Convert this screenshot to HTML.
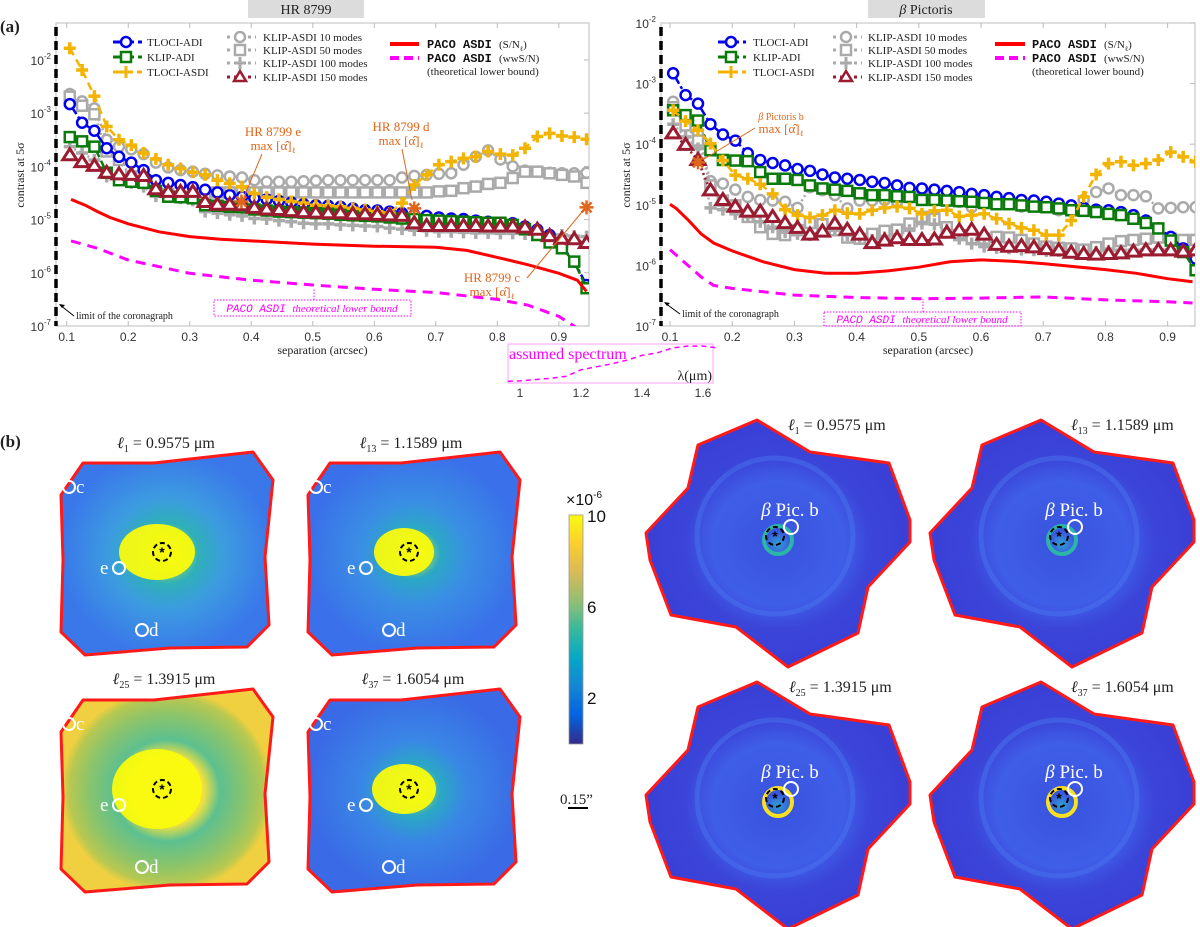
<!DOCTYPE html>
<html><head><meta charset="utf-8"><style>
html,body{margin:0;padding:0;background:#fff;}
svg{display:block;}
.tk{font-family:"Liberation Sans",sans-serif;font-size:12px;fill:#333;}
.sf{font-family:"Liberation Serif",serif;fill:#222;}
.mono{font-family:"Liberation Mono",monospace;font-weight:bold;fill:#111;}
.ann{font-family:"Liberation Serif",serif;fill:#e0661a;}
</style></head><body>
<svg id="fig" width="1200" height="927" viewBox="0 0 1200 927" xmlns="http://www.w3.org/2000/svg">
<defs>
<linearGradient id="parula" x1="0" y1="1" x2="0" y2="0">
<stop offset="0" stop-color="#352a87"/><stop offset="0.125" stop-color="#0363e1"/><stop offset="0.25" stop-color="#1485d4"/><stop offset="0.375" stop-color="#06a7c6"/><stop offset="0.5" stop-color="#38b99e"/><stop offset="0.625" stop-color="#92bf73"/><stop offset="0.75" stop-color="#d9ba56"/><stop offset="0.875" stop-color="#fcce2e"/><stop offset="1" stop-color="#f9fb0e"/>
</linearGradient>
<radialGradient id="gHR1"><stop offset="0" stop-color="#f9fb0e"/><stop offset="0.3" stop-color="#2fb0b8"/><stop offset="0.55" stop-color="#3c9be0"/><stop offset="1" stop-color="#3a78ea"/></radialGradient>
<radialGradient id="gHR2"><stop offset="0" stop-color="#f9fb0e"/><stop offset="0.25" stop-color="#2aa8c4"/><stop offset="0.5" stop-color="#3a8fe4"/><stop offset="1" stop-color="#3a70ea"/></radialGradient>
<radialGradient id="gHR3"><stop offset="0" stop-color="#f9fb0e"/><stop offset="0.35" stop-color="#f0e040"/><stop offset="0.5" stop-color="#5cc090"/><stop offset="0.75" stop-color="#8cc46a"/><stop offset="0.92" stop-color="#b8c850"/><stop offset="1" stop-color="#f0d040"/></radialGradient>
<radialGradient id="gHR4"><stop offset="0" stop-color="#f9fb0e"/><stop offset="0.25" stop-color="#2aa8c4"/><stop offset="0.5" stop-color="#3a86e6"/><stop offset="1" stop-color="#3a6ae6"/></radialGradient>
<radialGradient id="gBP"><stop offset="0" stop-color="#2fa0d0"/><stop offset="0.1" stop-color="#3a55e0"/><stop offset="0.5" stop-color="#3f5ee8"/><stop offset="0.7" stop-color="#3b45d8"/><stop offset="1" stop-color="#3a3fd6"/></radialGradient>
<clipPath id="clipL"><rect x="56" y="23" width="533" height="303"/></clipPath>
<clipPath id="clipR"><rect x="661" y="23" width="534" height="303"/></clipPath>
</defs>

<rect x="248" y="0" width="116" height="18" fill="#dcdcdc"/>
<text x="306" y="14" text-anchor="middle" class="sf" font-size="14">HR 8799</text>
<rect x="868" y="0" width="117" height="18" fill="#dcdcdc"/>
<text x="926" y="14" text-anchor="middle" class="sf" font-size="14"><tspan font-style="italic">β</tspan> Pictoris</text>
<text x="0" y="32" class="sf" font-size="17" font-weight="bold">(a)</text>
<text x="0" y="447" class="sf" font-size="17" font-weight="bold">(b)</text>

<g id="chartL"></g>
<g id="chartR"></g>

<g font-size="11">
 <g><line x1="113" y1="42" x2="142" y2="42" stroke="#0000ee" stroke-width="3" stroke-dasharray="14 4 3 4"/><circle cx="126" cy="42" r="5" fill="#fff" stroke="#0000ee" stroke-width="2.5"/><text x="147" y="46" class="sf">TLOCI-ADI</text></g>
 <g><line x1="113" y1="57" x2="142" y2="57" stroke="#0a7a0a" stroke-width="3" stroke-dasharray="14 4 3 4"/><rect x="121" y="52" width="10" height="10" fill="#fff" stroke="#0a7a0a" stroke-width="2.5"/><text x="147" y="61" class="sf">KLIP-ADI</text></g>
 <g><line x1="113" y1="72" x2="142" y2="72" stroke="#f2b400" stroke-width="3" stroke-dasharray="8 4"/><path d="M126 66v12M120 72h12" stroke="#f2b400" stroke-width="3"/><text x="147" y="76" class="sf">TLOCI-ASDI</text></g>
 <g><line x1="227" y1="37" x2="256" y2="37" stroke="#aaa" stroke-width="3" stroke-dasharray="3 4"/><circle cx="240" cy="37" r="5" fill="#fff" stroke="#aaa" stroke-width="2.5"/><text x="263" y="41" class="sf">KLIP-ASDI  10 modes</text></g>
 <g><line x1="227" y1="50" x2="256" y2="50" stroke="#aaa" stroke-width="3" stroke-dasharray="3 4"/><rect x="235" y="45" width="10" height="10" fill="#fff" stroke="#aaa" stroke-width="2.5"/><text x="263" y="54" class="sf">KLIP-ASDI  50 modes</text></g>
 <g><line x1="227" y1="63" x2="256" y2="63" stroke="#aaa" stroke-width="3" stroke-dasharray="3 4"/><path d="M240 57v12M234 63h12" stroke="#aaa" stroke-width="3"/><text x="263" y="67" class="sf">KLIP-ASDI  100 modes</text></g>
 <g><line x1="227" y1="77" x2="256" y2="77" stroke="#9b1b30" stroke-width="3" stroke-dasharray="3 4"/><path d="M240 71l6 10h-12z" fill="#fff" stroke="#9b1b30" stroke-width="2.5"/><text x="263" y="81" class="sf">KLIP-ASDI  150 modes</text></g>
 <g><line x1="390" y1="44" x2="419" y2="44" stroke="#ff0000" stroke-width="4"/><text x="427" y="48" class="mono" font-size="12">PACO ASDI</text><text x="499" y="48" class="sf">(S/N<tspan font-size="7" dy="3">ℓ</tspan><tspan dy="-3">)</tspan></text></g>
 <g><line x1="390" y1="58" x2="419" y2="58" stroke="#ff00ff" stroke-width="4" stroke-dasharray="9 5"/><text x="427" y="62" class="mono" font-size="12">PACO ASDI</text><text x="499" y="62" class="sf">(wwS/N)</text><text x="427" y="75" class="sf">(theoretical lower bound)</text></g>
</g>
<g font-size="11">
 <g><line x1="718" y1="42" x2="746" y2="42" stroke="#0000ee" stroke-width="3" stroke-dasharray="14 4 3 4"/><circle cx="731" cy="42" r="5" fill="#fff" stroke="#0000ee" stroke-width="2.5"/><text x="753" y="46" class="sf">TLOCI-ADI</text></g>
 <g><line x1="718" y1="57" x2="746" y2="57" stroke="#0a7a0a" stroke-width="3" stroke-dasharray="14 4 3 4"/><rect x="726" y="52" width="10" height="10" fill="#fff" stroke="#0a7a0a" stroke-width="2.5"/><text x="753" y="61" class="sf">KLIP-ADI</text></g>
 <g><line x1="718" y1="72" x2="746" y2="72" stroke="#f2b400" stroke-width="3" stroke-dasharray="8 4"/><path d="M731 66v12M725 72h12" stroke="#f2b400" stroke-width="3"/><text x="753" y="76" class="sf">TLOCI-ASDI</text></g>
 <g><line x1="833" y1="37" x2="862" y2="37" stroke="#aaa" stroke-width="3" stroke-dasharray="3 4"/><circle cx="846" cy="37" r="5" fill="#fff" stroke="#aaa" stroke-width="2.5"/><text x="868" y="41" class="sf">KLIP-ASDI  10 modes</text></g>
 <g><line x1="833" y1="50" x2="862" y2="50" stroke="#aaa" stroke-width="3" stroke-dasharray="3 4"/><rect x="841" y="45" width="10" height="10" fill="#fff" stroke="#aaa" stroke-width="2.5"/><text x="868" y="54" class="sf">KLIP-ASDI  50 modes</text></g>
 <g><line x1="833" y1="63" x2="862" y2="63" stroke="#aaa" stroke-width="3" stroke-dasharray="3 4"/><path d="M846 57v12M840 63h12" stroke="#aaa" stroke-width="3"/><text x="868" y="67" class="sf">KLIP-ASDI  100 modes</text></g>
 <g><line x1="833" y1="77" x2="862" y2="77" stroke="#9b1b30" stroke-width="3" stroke-dasharray="3 4"/><path d="M846 71l6 10h-12z" fill="#fff" stroke="#9b1b30" stroke-width="2.5"/><text x="868" y="81" class="sf">KLIP-ASDI  150 modes</text></g>
 <g><line x1="995" y1="44" x2="1025" y2="44" stroke="#ff0000" stroke-width="4"/><text x="1032" y="48" class="mono" font-size="12">PACO ASDI</text><text x="1104" y="48" class="sf">(S/N<tspan font-size="7" dy="3">ℓ</tspan><tspan dy="-3">)</tspan></text></g>
 <g><line x1="995" y1="58" x2="1025" y2="58" stroke="#ff00ff" stroke-width="4" stroke-dasharray="9 5"/><text x="1032" y="62" class="mono" font-size="12">PACO ASDI</text><text x="1104" y="62" class="sf">(wwS/N)</text><text x="1032" y="75" class="sf">(theoretical lower bound)</text></g>
</g>

<g>
 <text x="273" y="136" text-anchor="middle" class="ann" font-size="13">HR 8799 e</text>
 <text x="273" y="150" text-anchor="middle" class="ann" font-size="13">max [α̂]<tspan font-size="8" dy="3">ℓ</tspan></text>
 <line x1="262" y1="154" x2="244" y2="197" stroke="#e0661a" stroke-width="1"/>
 <text x="401" y="131" text-anchor="middle" class="ann" font-size="13">HR 8799 d</text>
 <text x="401" y="145" text-anchor="middle" class="ann" font-size="13">max [α̂]<tspan font-size="8" dy="3">ℓ</tspan></text>
 <line x1="402" y1="149" x2="412" y2="200" stroke="#e0661a" stroke-width="1"/>
 <text x="492" y="282" text-anchor="middle" class="ann" font-size="13">HR 8799 c</text>
 <text x="492" y="296" text-anchor="middle" class="ann" font-size="13">max [α̂]<tspan font-size="8" dy="3">ℓ</tspan></text>
 <line x1="527" y1="278" x2="582" y2="212" stroke="#e0661a" stroke-width="1"/>
 <text x="781" y="120" text-anchor="middle" class="ann" font-size="10"><tspan font-style="italic">β</tspan> Pictoris b</text>
 <text x="781" y="133" text-anchor="middle" class="ann" font-size="13">max [α̂]<tspan font-size="8" dy="3">ℓ</tspan></text>
 <line x1="755" y1="128" x2="704" y2="159" stroke="#e0661a" stroke-width="1"/>

 <rect x="214" y="300" width="197" height="16" fill="none" stroke="#ff00ff" stroke-dasharray="1.5 1.5"/>
 <text x="312" y="312" text-anchor="middle" font-family="Liberation Mono,monospace" font-style="italic" font-size="11" fill="#ff00ff">PACO ASDI <tspan font-family="Liberation Serif,serif">theoretical lower bound</tspan></text>
 <line x1="314" y1="300" x2="314" y2="289" stroke="#ff00ff" stroke-dasharray="1.5 1.5"/>
 <rect x="824" y="312" width="197" height="14" fill="none" stroke="#ff00ff" stroke-dasharray="1.5 1.5"/>
 <text x="922" y="323" text-anchor="middle" font-family="Liberation Mono,monospace" font-style="italic" font-size="11" fill="#ff00ff">PACO ASDI <tspan font-family="Liberation Serif,serif">theoretical lower bound</tspan></text>
 <line x1="923" y1="312" x2="923" y2="299" stroke="#ff00ff" stroke-dasharray="1.5 1.5"/>

 <line x1="74" y1="316" x2="60" y2="305" stroke="#000" stroke-width="1"/><path d="M59 304l6 1-3 3z" fill="#000"/>
 <text x="76" y="319" class="sf" font-size="10">limit of the coronagraph</text>
 <line x1="680" y1="314" x2="665" y2="303" stroke="#000" stroke-width="1"/><path d="M664 302l6 1-3 3z" fill="#000"/>
 <text x="682" y="317" class="sf" font-size="10">limit of the coronagraph</text>
</g>

<g id="inset">
 <rect x="508" y="344" width="205" height="39" fill="#fff" stroke="#ffb0ff" stroke-width="1.2"/>
 <text x="509" y="359" font-family="Liberation Serif,serif" font-size="16" fill="#ff00ff">assumed spectrum</text>
 <text x="712" y="380" text-anchor="end" class="sf" font-size="14">λ(μm)</text>
</g>

<g>
 <rect x="569" y="515" width="14" height="229" fill="url(#parula)" stroke="#999" stroke-width="0.8"/>
 <text x="566" y="505" font-family="Liberation Sans,sans-serif" font-size="16" fill="#111">×10<tspan font-size="10" dy="-7">-6</tspan></text>
 <text x="587" y="522" style="font-family:'Liberation Sans',sans-serif;font-size:17px;fill:#111">10</text>
 <text x="587" y="613" style="font-family:'Liberation Sans',sans-serif;font-size:17px;fill:#111">6</text>
 <text x="587" y="704" style="font-family:'Liberation Sans',sans-serif;font-size:17px;fill:#111">2</text>
 <text x="560" y="804" class="sf" font-size="15">0.15”</text>
 <line x1="568" y1="808" x2="588" y2="808" stroke="#000" stroke-width="2"/>
</g>

<g id="images"></g>
</svg>
<script>
const sepGrid = [0.105,0.125,0.145,0.165,0.185,0.205,0.225,0.245,0.265,0.285,0.305,0.325,0.345,0.365,0.385,0.405,0.425,0.445,0.465,0.485,0.505,0.525,0.545,0.565,0.585,0.605,0.625,0.645,0.665,0.685,0.705,0.725,0.745,0.765,0.785,0.805,0.825,0.845,0.865,0.885,0.905,0.925,0.945];
const hrTlociAdi = [-2.83,-3.18,-3.33,-3.66,-3.82,-3.93,-4.07,-4.26,-4.31,-4.35,-4.39,-4.44,-4.49,-4.54,-4.57,-4.60,-4.62,-4.65,-4.68,-4.71,-4.73,-4.74,-4.76,-4.79,-4.82,-4.83,-4.85,-4.88,-4.91,-4.93,-4.96,-4.98,-4.99,-5.02,-5.04,-5.06,-5.07,-5.13,-5.19,-5.29,-5.51,-5.79,-6.23];
const hrKlipAdi = [-3.45,-3.53,-3.63,-4.12,-4.26,-4.29,-4.31,-4.46,-4.57,-4.58,-4.60,-4.73,-4.74,-4.76,-4.77,-4.81,-4.83,-4.85,-4.86,-4.87,-4.88,-4.89,-4.91,-4.92,-4.93,-4.94,-4.96,-4.98,-4.99,-5.01,-5.02,-5.03,-5.04,-5.05,-5.06,-5.06,-5.10,-5.18,-5.29,-5.43,-5.54,-5.79,-6.29];
const hrTlociAsdi = [-1.78,-2.19,-2.68,-3.25,-3.50,-3.60,-3.75,-3.86,-3.97,-4.04,-4.11,-4.16,-4.26,-4.32,-4.38,-4.51,-4.58,-4.62,-4.66,-4.69,-4.73,-4.74,-4.76,-4.79,-4.82,-4.85,-4.88,-4.69,-4.35,-4.16,-3.97,-3.91,-3.85,-3.82,-3.72,-3.77,-3.79,-3.66,-3.44,-3.38,-3.43,-3.45,-3.49];
const hrKlip10 = [-2.64,-2.78,-2.91,-3.50,-3.63,-3.68,-3.77,-3.93,-4.02,-4.07,-4.10,-4.14,-4.17,-4.19,-4.21,-4.26,-4.29,-4.29,-4.29,-4.28,-4.27,-4.26,-4.26,-4.26,-4.26,-4.26,-4.26,-4.21,-4.18,-4.16,-4.14,-4.13,-3.97,-3.82,-3.70,-3.87,-4.00,-4.08,-4.10,-4.12,-4.13,-4.13,-4.12];
const hrKlip50 = [-2.69,-2.86,-3.02,-3.72,-3.88,-4.19,-4.29,-4.47,-4.52,-4.57,-4.57,-4.51,-4.49,-4.49,-4.49,-4.49,-4.49,-4.49,-4.49,-4.49,-4.49,-4.49,-4.49,-4.49,-4.49,-4.49,-4.49,-4.49,-4.49,-4.49,-4.47,-4.46,-4.41,-4.38,-4.33,-4.31,-4.22,-4.10,-4.10,-4.13,-4.16,-4.19,-4.31];
const hrKlip100 = [-3.63,-3.75,-3.88,-4.19,-4.26,-4.31,-4.38,-4.56,-4.57,-4.60,-4.64,-4.85,-4.88,-4.91,-4.93,-4.98,-4.99,-5.02,-5.04,-5.07,-5.08,-5.08,-5.10,-5.11,-5.12,-5.13,-5.16,-5.18,-5.20,-5.21,-5.23,-5.23,-5.24,-5.25,-5.25,-5.26,-5.26,-5.27,-5.28,-5.29,-5.29,-5.31,-5.32];
const hrKlip150 = [-3.80,-3.93,-4.00,-4.13,-4.16,-4.17,-4.19,-4.44,-4.49,-4.49,-4.49,-4.68,-4.73,-4.73,-4.74,-4.79,-4.82,-4.83,-4.85,-4.87,-4.88,-4.89,-4.89,-4.91,-4.91,-4.92,-4.93,-4.94,-5.08,-5.13,-5.13,-5.13,-5.13,-5.13,-5.14,-5.14,-5.14,-5.16,-5.20,-5.32,-5.37,-5.38,-5.45];
const hrPacoSep = [0.107,0.13,0.15,0.17,0.2,0.25,0.3,0.35,0.4,0.5,0.6,0.7,0.75,0.8,0.85,0.9,0.93,0.945];
const hrPacoSnr = [-4.62,-4.73,-4.85,-4.96,-5.08,-5.23,-5.32,-5.37,-5.40,-5.46,-5.50,-5.52,-5.58,-5.71,-5.85,-6.01,-6.14,-6.35];
const hrWwSep = [0.107,0.15,0.2,0.3,0.4,0.5,0.6,0.7,0.8,0.85,0.9,0.93];
const hrWwSnr = [-5.40,-5.54,-5.76,-6.01,-6.14,-6.23,-6.31,-6.37,-6.50,-6.61,-6.82,-7.04];
const hrPlanetSep = [0.384,0.665,0.945];
const hrPlanetVal = [-4.66,-4.79,-4.77];
const bpTlociAdi = [-2.83,-3.19,-3.33,-3.67,-3.84,-3.94,-4.15,-4.26,-4.31,-4.35,-4.41,-4.44,-4.50,-4.55,-4.57,-4.59,-4.62,-4.64,-4.68,-4.72,-4.73,-4.75,-4.77,-4.79,-4.82,-4.84,-4.87,-4.89,-4.92,-4.93,-4.95,-4.98,-5.01,-5.05,-5.08,-5.09,-5.12,-5.17,-5.26,-5.39,-5.53,-5.72,-5.89];
const bpKlipAdi = [-3.44,-3.52,-3.61,-4.10,-4.26,-4.27,-4.28,-4.46,-4.57,-4.57,-4.59,-4.68,-4.73,-4.75,-4.77,-4.81,-4.84,-4.84,-4.86,-4.87,-4.92,-4.92,-4.93,-4.94,-4.95,-4.97,-4.99,-4.99,-5.01,-5.03,-5.04,-5.06,-5.09,-5.10,-5.12,-5.15,-5.17,-5.23,-5.30,-5.39,-5.59,-5.78,-6.08];
const bpTlociAsdi = [-3.44,-3.62,-3.77,-3.99,-4.27,-4.51,-4.57,-4.66,-4.82,-5.08,-5.17,-5.21,-5.17,-5.09,-5.14,-5.15,-5.09,-5.05,-5.03,-5.06,-5.15,-5.10,-5.09,-5.19,-5.17,-5.15,-5.23,-5.31,-5.38,-5.42,-5.50,-5.50,-5.26,-4.87,-4.50,-4.32,-4.29,-4.35,-4.32,-4.26,-4.13,-4.21,-4.29];
const bpKlip10 = [-3.30,-3.63,-3.83,-4.61,-4.65,-4.75,-4.87,-4.92,-4.93,-4.95,-5.05,-4.71,-4.76,-4.84,-5.06,-4.93,-4.93,-4.92,-4.95,-4.82,-4.79,-4.83,-4.92,-4.95,-5.04,-4.95,-4.95,-4.98,-5.03,-4.99,-5.04,-5.09,-5.06,-4.92,-4.79,-4.73,-4.84,-4.84,-4.86,-5.06,-5.05,-5.04,-5.04];
const bpKlip50 = [-3.39,-3.69,-3.94,-4.68,-4.93,-5.01,-5.20,-5.37,-5.48,-5.50,-5.42,-5.30,-5.32,-5.42,-5.54,-5.56,-5.48,-5.43,-5.41,-5.31,-5.20,-5.23,-5.37,-5.50,-5.56,-5.56,-5.53,-5.54,-5.58,-5.64,-5.69,-5.71,-5.72,-5.74,-5.70,-5.64,-5.60,-5.58,-5.56,-5.54,-5.56,-5.58,-5.58];
const bpKlip100 = [-3.67,-3.88,-4.07,-5.05,-5.08,-5.15,-5.20,-5.28,-5.37,-5.45,-5.48,-5.50,-5.42,-5.42,-5.50,-5.56,-5.58,-5.54,-5.50,-5.42,-5.31,-5.32,-5.42,-5.56,-5.64,-5.69,-5.71,-5.72,-5.74,-5.75,-5.76,-5.76,-5.76,-5.78,-5.78,-5.76,-5.75,-5.75,-5.74,-5.74,-5.74,-5.74,-5.74];
const bpKlip150 = [-3.83,-4.02,-4.27,-4.77,-4.93,-5.04,-5.12,-5.12,-5.21,-5.31,-5.39,-5.50,-5.45,-5.32,-5.42,-5.50,-5.64,-5.60,-5.56,-5.59,-5.59,-5.58,-5.47,-5.43,-5.42,-5.50,-5.67,-5.70,-5.69,-5.71,-5.74,-5.76,-5.80,-5.82,-5.83,-5.82,-5.81,-5.78,-5.76,-5.76,-5.76,-5.78,-5.76];
const bpPacoSep = [0.1,0.11,0.13,0.15,0.17,0.2,0.25,0.3,0.35,0.4,0.45,0.5,0.55,0.6,0.65,0.7,0.75,0.8,0.85,0.9,0.94];
const bpPacoSnr = [-4.99,-5.06,-5.26,-5.48,-5.63,-5.76,-5.94,-6.07,-6.13,-6.13,-6.09,-6.03,-5.94,-5.91,-5.93,-5.97,-6.02,-6.07,-6.13,-6.22,-6.27];
const bpWwSep = [0.1,0.12,0.15,0.17,0.2,0.3,0.4,0.5,0.6,0.7,0.8,0.9,0.94];
const bpWwSnr = [-5.74,-5.92,-6.19,-6.33,-6.38,-6.49,-6.53,-6.55,-6.54,-6.52,-6.57,-6.60,-6.62];
const bpPlanetSep = [0.145];
const bpPlanetVal = [-4.30];
const xTickLabels = ["0.1","0.2","0.3","0.4","0.5","0.6","0.7","0.8","0.9"];
const xTickValues = [0.1,0.2,0.3,0.4,0.5,0.6,0.7,0.8,0.9];
const yTickExps = [-2,-3,-4,-5,-6,-7];
const specLambda = [0.96,1.0,1.1,1.15,1.2,1.25,1.3,1.35,1.4,1.45,1.5,1.55,1.6,1.65];
const specValue = [0.02,0.03,0.1,0.15,0.33,0.41,0.49,0.59,0.72,0.79,0.92,0.97,0.97,0.92];
const specTickLabels = ["1","1.2","1.4","1.6"];
const specTickValues = [1,1.2,1.4,1.6];

const NS = "http://www.w3.org/2000/svg";
function el(tag, attrs, parent) {
  const e = document.createElementNS(NS, tag);
  for (const k in attrs) e.setAttribute(k, attrs[k]);
  parent.appendChild(e);
  return e;
}

function drawChart(root, cfg, series, planets) {
  const xs = s => cfg.x0 + (s - cfg.xmin) / (cfg.xmax - cfg.xmin) * (cfg.x1 - cfg.x0);
  const ys = L => cfg.y0 + (cfg.Ltop - L) / (cfg.Ltop - cfg.Lbot) * (cfg.y1 - cfg.y0);
  const frame = el("rect", {x: cfg.x0, y: cfg.y0, width: cfg.x1 - cfg.x0, height: cfg.y1 - cfg.y0, fill: "none", stroke: "#c8c8c8", "stroke-width": 1.2}, root);
  
  
  xTickValues.forEach((v, i) => {
    const x = xs(v);
    el("line", {x1: x, y1: cfg.y1, x2: x, y2: cfg.y1 - 5, stroke: "#bbb"}, root);
    el("line", {x1: x, y1: cfg.y0, x2: x, y2: cfg.y0 + 5, stroke: "#bbb"}, root);
    const t = el("text", {x: x, y: cfg.y1 + 15, "text-anchor": "middle", class: "tk"}, root);
    t.textContent = xTickLabels[i];
    
    
  });
  yTickExps.forEach(e => {
    const y = ys(e);
    if (y < cfg.y0 - 1) return;
    el("line", {x1: cfg.x1, y1: y, x2: cfg.x1 - 5, y2: y, stroke: "#bbb"}, root);
    const t = el("text", {x: cfg.x0 - 5, y: y + 5, "text-anchor": "end", class: "tk"}, root);
    t.textContent = "10";
    const sup = el("tspan", {"font-size": 8, dy: -6}, t);
    sup.textContent = String(e);
    
    
  });
  const xl = el("text", {x: (cfg.x0 + cfg.x1) / 2, y: cfg.y1 + 28, "text-anchor": "middle", class: "sf", "font-size": 12}, root);
  xl.textContent = "separation (arcsec)";
  
  
  const yl = el("text", {x: 0, y: 0, "text-anchor": "middle", class: "sf", "font-size": 12, transform: "translate(" + cfg.ylabX + ",175) rotate(-90)"}, root);
  yl.textContent = "contrast at 5σ";
  
  
  const lim = el("line", {x1: cfg.x0, y1: cfg.y0 + 4, x2: cfg.x0, y2: cfg.y1, stroke: "#000", "stroke-width": 3.5, "stroke-dasharray": "9 5"}, root);
  
  
  const g = el("g", {"clip-path": "url(#" + cfg.clip + ")"}, root);
  series.forEach(s => {
    const sx = s.sep, vals = s.vals;
    const d = vals.map((v, i) => (i ? "L" : "M") + xs(sx[i]).toFixed(1) + " " + ys(v).toFixed(1)).join("");
    const p = el("path", {d: d, fill: "none", stroke: s.color, "stroke-width": s.width || 2.5, "stroke-dasharray": s.dash || "none"}, g);
    
    
    if (!s.marker) return;
    vals.forEach((v, i) => {
      const x = xs(sx[i]), y = ys(v);
      let m;
      if (s.marker === "circle") m = el("circle", {cx: x, cy: y, r: 5, fill: "#fff", stroke: s.color, "stroke-width": 2.5}, g);
      else if (s.marker === "square") m = el("rect", {x: x - 5, y: y - 5, width: 10, height: 10, fill: "#fff", stroke: s.color, "stroke-width": 2.5}, g);
      else if (s.marker === "plus") m = el("path", {d: "M" + x + " " + (y - 6) + "v12M" + (x - 6) + " " + y + "h12", stroke: s.color, "stroke-width": 3.5}, g);
      else m = el("path", {d: "M" + x + " " + (y - 7) + "l7 11h-14z", fill: "#fff", stroke: s.color, "stroke-width": 3}, g);
      
      
    });
  });
  planets.sep.forEach((sv, i) => {
    const x = xs(sv), y = ys(planets.val[i]);
    const st = el("path", {d: "M" + (x - 7) + " " + y + "h14M" + x + " " + (y - 7) + "v14M" + (x - 5) + " " + (y - 5) + "l10 10M" + (x + 5) + " " + (y - 5) + "l-10 10", stroke: "#e0661a", "stroke-width": 2.5}, root);
    
    
  });
}

function seriesSet(a) {
  return [
    {name: "klip-asdi-10", sep: sepGrid, vals: a.k10, color: "#aaaaaa", dash: "2 3", marker: "circle"},
    {name: "klip-asdi-50", sep: sepGrid, vals: a.k50, color: "#aaaaaa", dash: "2 3", marker: "square"},
    {name: "klip-asdi-100", sep: sepGrid, vals: a.k100, color: "#aaaaaa", dash: "2 3", marker: "plus"},
    {name: "tloci-adi", sep: sepGrid, vals: a.tadi, color: "#0000ee", dash: "12 3 3 3", marker: "circle"},
    {name: "klip-adi", sep: sepGrid, vals: a.kadi, color: "#0a7a0a", dash: "10 4", marker: "square"},
    {name: "tloci-asdi", sep: sepGrid, vals: a.tasdi, color: "#f2b400", dash: "8 5", marker: "plus"},
    {name: "klip-asdi-150", sep: sepGrid, vals: a.k150, color: "#9b1b30", dash: "2 3", marker: "triangle"},
    {name: "paco-asdi-snr", sep: a.pSep, vals: a.pVal, color: "#ff0000", width: 3},
    {name: "paco-asdi-wwsnr", sep: a.wSep, vals: a.wVal, color: "#ff00ff", width: 3, dash: "10 7"}
  ];
}

drawChart(document.getElementById("chartL"),
  {x0: 56, x1: 589, y0: 23, y1: 326, xmin: 0.0826, xmax: 0.949, Ltop: -1.306, Lbot: -7, clip: "clipL", ylabX: 24},
  seriesSet({k10: hrKlip10, k50: hrKlip50, k100: hrKlip100, tadi: hrTlociAdi, kadi: hrKlipAdi, tasdi: hrTlociAsdi, k150: hrKlip150, pSep: hrPacoSep, pVal: hrPacoSnr, wSep: hrWwSep, wVal: hrWwSnr}),
  {sep: hrPlanetSep, val: hrPlanetVal});
drawChart(document.getElementById("chartR"),
  {x0: 661, x1: 1195, y0: 23, y1: 326, xmin: 0.0855, xmax: 0.944, Ltop: -2, Lbot: -7, clip: "clipR", ylabX: 630},
  seriesSet({k10: bpKlip10, k50: bpKlip50, k100: bpKlip100, tadi: bpTlociAdi, kadi: bpKlipAdi, tasdi: bpTlociAsdi, k150: bpKlip150, pSep: bpPacoSep, pVal: bpPacoSnr, wSep: bpWwSep, wVal: bpWwSnr}),
  {sep: bpPlanetSep, val: bpPlanetVal});

(function () {
  const root = document.getElementById("inset");
  const lx = l => 520 + (l - 1) * 305;
  const sy = v => 382 - v * 37;
  const d = specLambda.map((l, i) => (i ? "L" : "M") + lx(l).toFixed(1) + " " + sy(specValue[i]).toFixed(1)).join("");
  const p = el("path", {d: d, fill: "none", stroke: "#ff00ff", "stroke-width": 1.5, "stroke-dasharray": "5 4"}, root);
  
  
  specTickValues.forEach((v, i) => {
    const t = el("text", {x: lx(v), y: 397, "text-anchor": "middle", class: "tk"}, root);
    t.textContent = specTickLabels[i];
    
    
  });
})();

(function () {
  const root = document.getElementById("images");
  const hrPoly = [[-79,-89],[-8,-89],[91,-100],[111,-72],[103,5],[107,73],[85,95],[8,96],[-77,103],[-101,80],[-99,8],[-101,-57]];
  const bpPoly = [[-77,-91],[-18,-116],[35,-84],[114,-73],[135,-16],[135,6],[93,51],[83,97],[13,131],[-39,91],[-104,79],[-125,24],[-129,-3],[-87,-48]];
  const hrMaps = [
    {cx:162, cy:552, g:"gHR1", rx:38, ry:28, label:["1","0.9575"], ly:448, lx:166},
    {cx:409, cy:552, g:"gHR2", rx:30, ry:24, label:["13","1.1589"], ly:448, lx:411},
    {cx:162, cy:789, g:"gHR3", rx:45, ry:40, label:["25","1.3915"], ly:684, lx:164},
    {cx:409, cy:789, g:"gHR4", rx:32, ry:25, label:["37","1.6054"], ly:684, lx:413}
  ];
  function starMark(g, x, y, r) {
    el("circle", {cx: x, cy: y, r: r, fill: "none", stroke: "#000", "stroke-width": 2, "stroke-dasharray": "5 3"}, g);
    el("text", {x: x, y: y + 5, "text-anchor": "middle", "font-size": 14, "font-weight": "bold", fill: "#000", "font-family": "Liberation Sans,sans-serif"}, g).textContent = "*";
  }
  function label(g, x, y, sub, val, anchor) {
    const t = el("text", {x: x, y: y, "text-anchor": anchor, class: "sf", "font-size": 16}, g);
    t.innerHTML = '<tspan font-style="italic">ℓ</tspan><tspan font-size="10" dy="4">' + sub + '</tspan><tspan dy="-4"> = ' + val + ' μm</tspan>';
    
    
  }
  hrMaps.forEach(m => {
    const g = el("g", {}, root);
    
    
    const pts = hrPoly.map(p => (m.cx + p[0]) + "," + (m.cy + p[1])).join(" ");
    el("polygon", {points: pts, fill: "url(#" + m.g + ")"}, g);
    el("ellipse", {cx: m.cx - 5, cy: m.cy, rx: m.rx, ry: m.ry, fill: "#f9fb0e", opacity: 0.95}, g);
    el("polygon", {points: pts, fill: "none", stroke: "#ff1a1a", "stroke-width": 3, "stroke-linejoin": "round"}, g);
    starMark(g, m.cx, m.cy, 9);
    [["c", -93, -65, -84], ["e", -43, 16, -62], ["d", -20, 78, -32]].forEach(c => {
      el("circle", {cx: m.cx + c[1], cy: m.cy + c[2], r: 6, fill: "none", stroke: "#fff", "stroke-width": 2}, g);
      const lt = el("text", {x: m.cx + (c[0] === "e" ? c[3] : c[1] + 7), y: m.cy + c[2] + 6, class: "sf", "font-size": 19}, g);
      lt.setAttribute("style", "fill:#fff");
      lt.textContent = c[0];
    });
    label(root, m.lx, m.ly, m.label[0], m.label[1], "middle");
  });
  const bpMaps = [
    {cx:775, cy:536, label:["1","0.9575"], ly:430, lx:788},
    {cx:1059, cy:536, label:["13","1.1589"], ly:430, lx:1071},
    {cx:775, cy:798, label:["25","1.3915"], ly:692, lx:789},
    {cx:1059, cy:798, label:["37","1.6054"], ly:692, lx:1071}
  ];
  bpMaps.forEach((m, k) => {
    const g = el("g", {}, root);
    
    
    const pts = bpPoly.map(p => (m.cx + p[0]) + "," + (m.cy + p[1])).join(" ");
    el("polygon", {points: pts, fill: "url(#gBP)"}, g);
    el("circle", {cx: m.cx, cy: m.cy, r: 78, fill: "none", stroke: "#4a78f0", "stroke-width": 5, opacity: 0.45}, g);
    el("circle", {cx: m.cx + 3, cy: m.cy + 4, r: 14, fill: "none", stroke: k > 1 ? "#f9e020" : "#2bb6a8", "stroke-width": 4}, g);
    el("polygon", {points: pts, fill: "none", stroke: "#ff1a1a", "stroke-width": 3, "stroke-linejoin": "round"}, g);
    starMark(g, m.cx, m.cy, 9);
    el("circle", {cx: m.cx + 16, cy: m.cy - 9, r: 7, fill: "none", stroke: "#fff", "stroke-width": 2}, g);
    const bt = el("text", {x: m.cx + 15, y: m.cy - 20, "text-anchor": "middle", class: "sf", "font-size": 19}, g);
    bt.setAttribute("style", "fill:#fff");
    bt.innerHTML = '<tspan font-style="italic">β</tspan> Pic.  b';
    label(root, m.lx, m.ly, m.label[0], m.label[1], "start");
  });
})();
</script>
</body></html>
